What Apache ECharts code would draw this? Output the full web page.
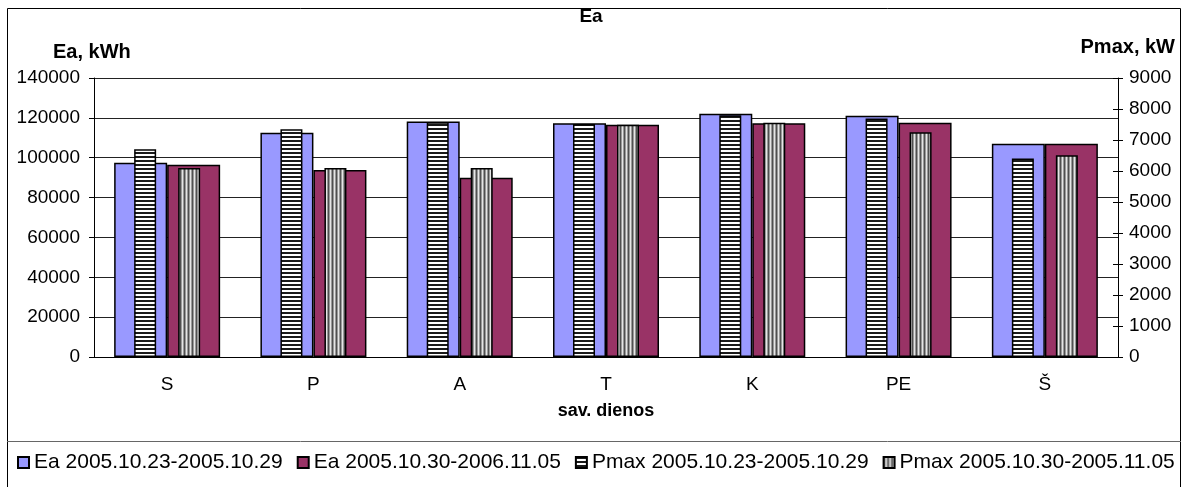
<!DOCTYPE html>
<html>
<head>
<meta charset="utf-8">
<script src="https://cdn.jsdelivr.net/npm/echarts@6/dist/echarts.min.js"></script>
<style>
  html, body { margin: 0; padding: 0; background: #fff; }
  #chart { width: 1182px; height: 487px; }
</style>
</head>
<body>
<div id="chart"></div>
<script>
// week days
const days = ['S', 'P', 'A', 'T', 'K', 'PE', 'Š'];

// energy, kWh (left axis)
const eaWeek1 = [97500, 112500, 118200, 117300, 122000, 121100, 107000];
const eaWeek2 = [96500, 93800, 90000, 116500, 117300, 117500, 107000];

// peak power, kW (right axis)
const pmaxWeek1 = [6700, 7350, 7570, 7520, 7800, 7690, 6400];
const pmaxWeek2 = [6100, 6100, 6100, 7490, 7560, 7250, 6510];

const names = [
    'Ea 2005.10.23-2005.10.29',
    'Ea 2005.10.30-2006.11.05',
    'Pmax 2005.10.23-2005.10.29',
    'Pmax 2005.10.30-2005.11.05'
];

const font = 'Liberation Sans, Arial, sans-serif';

// hatch fills
function makePattern(horizontal) {
    const c = document.createElement('canvas');
    c.width = 4;
    c.height = 4;
    const ctx = c.getContext('2d');
    if (horizontal) {
        ctx.fillStyle = '#ffffff';
        ctx.fillRect(0, 0, 4, 4);
        ctx.fillStyle = '#1a1a1a';
        ctx.fillRect(0, 0, 4, 2);
    } else {
        const cols = ['#505050', '#9a9a9a', '#e6e6e6', '#9a9a9a'];
        cols.forEach((col, i) => {
            ctx.fillStyle = col;
            ctx.fillRect(i, 0, 1, 4);
        });
    }
    return { image: c, repeat: 'repeat' };
}

const hatchH = makePattern(true);
const hatchV = makePattern(false);

const plain = v => String(v);

const mychart = echarts.init(document.getElementById('chart'));

const option = {
    animation: false,
    backgroundColor: '#fff',
    textStyle: { fontFamily: font, color: '#000' },
    title: [
        {
            text: 'Ea', left: 'center', top: 2,
            textStyle: { fontSize: 19, fontWeight: 'bold', fontFamily: font, color: '#000' }
        },
        {
            text: 'Ea, kWh', left: 48, top: 37,
            textStyle: { fontSize: 20, fontWeight: 'bold', fontFamily: font, color: '#000' }
        },
        {
            text: 'Pmax, kW', right: 2, top: 32,
            textStyle: { fontSize: 20, fontWeight: 'bold', fontFamily: font, color: '#000' }
        }
    ],
    graphic: [
        {
            type: 'rect',
            shape: { x: 7.5, y: 8.5, width: 1173, height: 500 },
            style: { fill: 'none', stroke: '#000', lineWidth: 1 },
            silent: true
        },
        {
            type: 'line',
            shape: { x1: 7, y1: 441.5, x2: 1181, y2: 441.5 },
            style: { stroke: '#666', lineWidth: 1 },
            silent: true
        }
    ],
    legend: {
        left: 17,
        top: 452,
        width: 1165,
        padding: 0,
        itemWidth: 11,
        itemHeight: 11,
        itemGap: 14,
        icon: 'rect',
        textStyle: { fontSize: 21, fontFamily: font, color: '#000' },
        data: names
    },
    grid: { left: 94, right: 64, top: 78, bottom: 130 },
    xAxis: [
        {
            type: 'category',
            data: days,
            name: 'sav. dienos',
            nameLocation: 'middle',
            nameGap: 45,
            nameTextStyle: { fontSize: 18, fontWeight: 'bold', fontFamily: font, color: '#000' },
            axisLine: { lineStyle: { color: '#000', width: 1 } },
            axisTick: { length: 5, lineStyle: { color: '#000' } },
            axisLabel: { fontSize: 19, margin: 18, color: '#000' }
        },
        {
            type: 'category',
            data: days,
            show: false
        }
    ],
    yAxis: [
        {
            type: 'value',
            min: 0, max: 140000, interval: 20000,
            axisLine: { show: true, lineStyle: { color: '#000' } },
            axisTick: { show: true, length: 5, lineStyle: { color: '#000' } },
            axisLabel: { fontSize: 19, margin: 14, color: '#000', formatter: plain },
            splitLine: { lineStyle: { color: '#222', width: 1 } }
        },
        {
            type: 'value',
            position: 'right',
            min: 0, max: 9000, interval: 1000,
            axisLine: { show: true, lineStyle: { color: '#000' } },
            axisTick: { show: true, length: 5, lineStyle: { color: '#000' } },
            axisLabel: { fontSize: 19, margin: 11, color: '#000', formatter: plain },
            splitLine: { show: false }
        },
        {
            // inner half of the crossing ticks on the right axis
            type: 'value',
            position: 'right',
            min: 0, max: 9000, interval: 1000,
            axisLine: { show: false },
            axisTick: { show: true, inside: true, length: 5, lineStyle: { color: '#000' } },
            axisLabel: { show: false },
            splitLine: { show: false }
        }
    ],
    series: [
        {
            name: names[0], type: 'bar', xAxisIndex: 0, yAxisIndex: 0,
            barWidth: 53, barGap: '0%',
            itemStyle: { color: '#9999ff', borderColor: '#000', borderWidth: 1.5 },
            data: eaWeek1
        },
        {
            name: names[1], type: 'bar', xAxisIndex: 0, yAxisIndex: 0,
            barWidth: 53, barGap: '0%',
            itemStyle: { color: '#993366', borderColor: '#000', borderWidth: 1.5 },
            data: eaWeek2
        },
        {
            name: names[2], type: 'bar', xAxisIndex: 1, yAxisIndex: 1,
            barWidth: 22, barGap: '100%',
            itemStyle: { color: hatchH, borderColor: '#000', borderWidth: 1.5 },
            data: pmaxWeek1
        },
        {
            name: names[3], type: 'bar', xAxisIndex: 1, yAxisIndex: 1,
            barWidth: 22, barGap: '100%',
            itemStyle: { color: hatchV, borderColor: '#000', borderWidth: 1.5 },
            data: pmaxWeek2
        }
    ]
};

mychart.setOption(option);
</script>
</body>
</html>
